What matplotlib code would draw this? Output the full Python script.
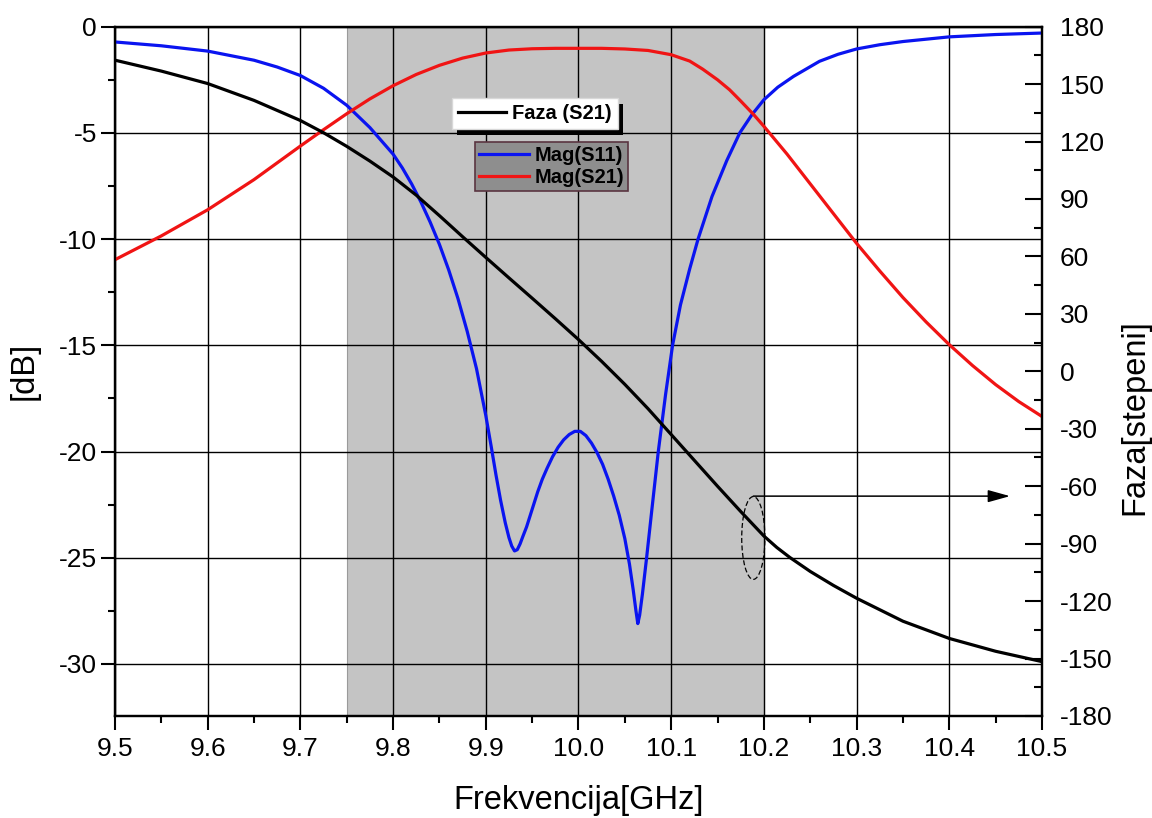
import numpy as np
import matplotlib
matplotlib.use("Agg")
import matplotlib.pyplot as plt
from matplotlib.patches import Ellipse
from matplotlib.lines import Line2D
from matplotlib.ticker import MultipleLocator
import matplotlib.patheffects as pe

plt.rcParams['font.family'] = ['Liberation Sans', 'DejaVu Sans']
plt.rcParams['axes.unicode_minus'] = False

# --- data ---
f_s11 = [9.50, 9.55, 9.60, 9.65, 9.675, 9.70, 9.725, 9.75, 9.775, 9.80, 9.81, 9.82,
         9.83, 9.84, 9.85, 9.86, 9.87, 9.88, 9.89, 9.90, 9.906, 9.911, 9.916, 9.921,
         9.925, 9.928, 9.931, 9.934, 9.937, 9.94, 9.944, 9.948, 9.952, 9.956, 9.961,
         9.966, 9.972, 9.978, 9.984, 9.99, 9.996, 10.002, 10.008, 10.014, 10.02,
         10.026, 10.032, 10.038, 10.044, 10.05, 10.055, 10.059, 10.062, 10.064,
         10.066, 10.069, 10.0735, 10.079, 10.0861, 10.094, 10.1015, 10.11, 10.12,
         10.129, 10.144, 10.16, 10.174, 10.187, 10.20, 10.215, 10.232, 10.26, 10.28,
         10.30, 10.325, 10.35, 10.40, 10.45, 10.50]
s11_db = [-0.72, -0.9, -1.15, -1.58, -1.9, -2.3, -2.9, -3.7, -4.75, -6.0, -6.65, -7.4,
          -8.25, -9.2, -10.25, -11.45, -12.8, -14.35, -16.1, -18.3, -19.8, -21.1, -22.3, -23.35,
          -24.05, -24.45, -24.68, -24.62, -24.35, -24.0, -23.55, -23.0, -22.45, -21.9, -21.3,
          -20.8, -20.25, -19.8, -19.45, -19.2, -19.05, -19.05, -19.25, -19.6, -20.05,
          -20.6, -21.3, -22.1, -23.0, -24.1, -25.3, -26.5, -27.5, -28.1,
          -27.7, -26.7, -25.0, -22.8, -20.0, -17.3, -15.0, -13.1, -11.4,
          -10.0, -8.0, -6.3, -5.0, -4.15, -3.44, -2.85, -2.34, -1.63, -1.3,
          -1.05, -0.85, -0.7, -0.48, -0.37, -0.3]

f_s21 = [9.50, 9.55, 9.60, 9.65, 9.70, 9.725, 9.75, 9.775, 9.80, 9.825, 9.85, 9.875,
         9.90, 9.925, 9.95, 9.975, 10.00, 10.025, 10.05, 10.075, 10.10, 10.12, 10.134,
         10.15, 10.163, 10.175, 10.189, 10.20, 10.225, 10.25, 10.275, 10.30, 10.325,
         10.35, 10.375, 10.40, 10.425, 10.45, 10.475, 10.50]
s21_db = [-10.97, -9.85, -8.62, -7.2, -5.62, -4.85, -4.1, -3.4, -2.78, -2.25, -1.82, -1.48,
          -1.24, -1.1, -1.04, -1.02, -1.02, -1.02, -1.05, -1.12, -1.32, -1.62, -2.0,
          -2.5, -2.97, -3.5, -4.14, -4.69, -6.0, -7.4, -8.8, -10.2, -11.5,
          -12.75, -13.9, -14.97, -15.95, -16.85, -17.65, -18.35]

f_phase = [9.50, 9.55, 9.60, 9.65, 9.70, 9.725, 9.75, 9.775, 9.80, 9.825, 9.85, 9.875,
           9.90, 9.925, 9.95, 9.975, 10.00, 10.025, 10.05, 10.075, 10.10, 10.125, 10.15,
           10.175, 10.20, 10.214, 10.228, 10.25, 10.275, 10.30, 10.35, 10.40, 10.45, 10.50]
phase_deg = [162.5, 156.8, 150.3, 141.5, 131, 124.6, 117.5, 109.8, 101.5, 92, 81.3, 70.3,
             59.5, 48.8, 38.2, 27.5, 16.6, 5.2, -6.8, -19.5, -33, -46.5, -60,
             -73.2, -86, -92, -97.2, -104.5, -111.8, -118.5, -130.5, -139.5, -146.2, -151.6]

band = (9.75, 10.2)
x_ticks = [9.5, 9.6, 9.7, 9.8, 9.9, 10.0, 10.1, 10.2, 10.3, 10.4, 10.5]
db_ticks = [0, -5, -10, -15, -20, -25, -30]
deg_ticks = list(range(-180, 181, 30))

# --- figure ---
fig = plt.figure(figsize=(11.52, 8.18), dpi=100)
ax1 = fig.add_axes([0.0998, 0.1247, 0.8047, 0.8427])
ax2 = ax1.twinx()

ax1.axvspan(band[0], band[1], facecolor='#c4c4c4', edgecolor='#9a9a9a', lw=0.8, zorder=0.5)
l_s11, = ax1.plot(f_s11, s11_db, color='#0a14f0', lw=2.3, zorder=3)
l_s21, = ax1.plot(f_s21, s21_db, color='#f01414', lw=2.3, zorder=3)
l_ph, = ax2.plot(f_phase, phase_deg, color='black', lw=2.3, zorder=3)

ax1.set_xlim(9.5, 10.5)
ax1.set_ylim(-32.45, 0)
ax2.set_ylim(-180, 180)

ax1.set_xticks(x_ticks)
ax1.set_xticklabels([f'{v:.1f}' for v in x_ticks])
ax1.xaxis.set_minor_locator(MultipleLocator(0.05))
ax1.set_yticks(db_ticks)
ax1.yaxis.set_minor_locator(MultipleLocator(2.5))
ax2.set_yticks(deg_ticks)
ax2.yaxis.set_minor_locator(MultipleLocator(15))

ax1.grid(True, which='major', color='black', lw=1.0)
ax1.set_axisbelow('line')

for ax in (ax1, ax2):
    for s in ax.spines.values():
        s.set_linewidth(1.6)

ax1.tick_params(axis='both', which='major', direction='out', length=10, width=1.5,
                labelsize=19, pad=3)
ax1.tick_params(axis='both', which='minor', direction='out', length=5, width=1.5)
ax1.tick_params(axis='x', which='major', pad=5)
ax2.tick_params(axis='y', which='major', direction='in', length=12, width=1.5,
                labelsize=19, pad=13)
ax2.tick_params(axis='y', which='minor', direction='in', length=6, width=1.5)

ax1.set_xlabel('Frekvencija[GHz]', fontsize=23.5)
ax1.set_ylabel('[dB]', fontsize=23.5)
ax2.set_ylabel('Faza[stepeni]', fontsize=23.5)
ax1.xaxis.set_label_coords(0.5, -0.1)
ax1.yaxis.set_label_coords(-0.081, 0.5)
ax2.yaxis.set_label_coords(1.084, 0.434)

# annotation: ellipse round the phase curve and arrow to the right axis
ell = Ellipse((10.1886, -24.07), 0.025, 3.9, fill=False, ls=(0, (4, 2)), lw=0.9,
              ec='black', zorder=4)
ax1.add_patch(ell)
ax1.annotate('', xy=(10.4655, -22.1), xytext=(10.1886, -22.1),
             arrowprops=dict(arrowstyle='-|>,head_length=0.9,head_width=0.25',
                             mutation_scale=15, lw=1.1, color='black',
                             shrinkA=0, shrinkB=0), zorder=4)

# legends
leg_font = {'weight': 'bold', 'size': 14.5}
leg1 = ax2.legend(handles=[Line2D([], [], color='black', lw=2.3)], labels=['Faza (S21)'],
                  loc='upper left', bbox_to_anchor=(0.392, 0.8798),
                  bbox_transform=fig.transFigure, prop=leg_font, fancybox=False,
                  handlelength=2.4, handletextpad=0.3, borderpad=0.3,
                  borderaxespad=0, framealpha=1)
fr1 = leg1.get_frame()
fr1.set_facecolor('white')
fr1.set_edgecolor('#d8d8d8')
fr1.set_linewidth(1.0)
fr1.set_path_effects([pe.SimplePatchShadow(offset=(4, -4), shadow_rgbFace='black', alpha=1),
                      pe.Normal()])

leg2 = ax1.legend(handles=[l_s11, l_s21], labels=['Mag(S11)', 'Mag(S21)'],
                  loc='upper left', bbox_to_anchor=(0.4123, 0.8268),
                  bbox_transform=fig.transFigure, prop=leg_font, fancybox=False,
                  handlelength=2.5, handletextpad=0.25, borderpad=0.2,
                  labelspacing=0.15, borderaxespad=0, framealpha=1)
fr2 = leg2.get_frame()
fr2.set_facecolor('#8e8e8e')
fr2.set_edgecolor('#5a3440')
fr2.set_linewidth(1.2)
leg2.set_zorder(5)

fig.savefig('out.png', dpi=100)
